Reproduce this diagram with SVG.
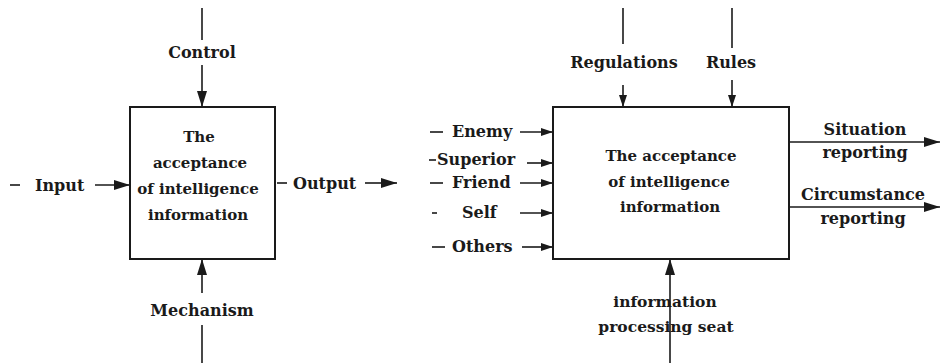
<svg xmlns="http://www.w3.org/2000/svg" width="940" height="363" viewBox="0 0 940 363">
<style>
  text { font-family: 'DejaVu Serif', serif; font-weight: 700; font-size: 16px; fill: #1a1a1a; }
  .c { text-anchor: middle; }
  .bt { font-size: 15px; }
  .box { fill: #fff; stroke: #1a1a1a; stroke-width: 2; }
  .ln { stroke: #1a1a1a; stroke-width: 1.6; fill: none; }
</style>
<defs>
  <marker id="ah" markerUnits="userSpaceOnUse" markerWidth="18" markerHeight="12" refX="16" refY="6" orient="auto">
    <path d="M0,1 L16,6 L0,11 Z" fill="#1a1a1a"/>
  </marker>
  <marker id="ahs" markerUnits="userSpaceOnUse" markerWidth="14" markerHeight="10" refX="12" refY="5" orient="auto">
    <path d="M0,1 L12,5 L0,9 Z" fill="#1a1a1a"/>
  </marker>
</defs>
<rect width="940" height="363" fill="#fff"/>

<g id="connectors">
  <line class="ln" x1="202" y1="8" x2="202" y2="40"/>
  <line class="ln" x1="202" y1="65" x2="202" y2="107" marker-end="url(#ah)"/>
  <line class="ln" x1="202" y1="293" x2="202" y2="259" marker-end="url(#ah)"/>
  <line class="ln" x1="202" y1="325" x2="202" y2="363"/>
  <line class="ln" x1="10" y1="185" x2="20" y2="185"/>
  <line class="ln" x1="95" y1="185" x2="130" y2="185" marker-end="url(#ah)"/>
  <line class="ln" x1="277" y1="183" x2="287" y2="183"/>
  <line class="ln" x1="365" y1="183" x2="397" y2="183" marker-end="url(#ah)"/>
  <line class="ln" x1="623" y1="8" x2="623" y2="44"/>
  <line class="ln" x1="623" y1="85" x2="623" y2="107" marker-end="url(#ahs)"/>
  <line class="ln" x1="732" y1="8" x2="732" y2="48"/>
  <line class="ln" x1="732" y1="80" x2="732" y2="107" marker-end="url(#ahs)"/>
  <line class="ln" x1="430" y1="132" x2="443" y2="132"/>
  <line class="ln" x1="520" y1="132" x2="553" y2="132" marker-end="url(#ahs)"/>
  <line class="ln" x1="429" y1="160" x2="436" y2="160"/>
  <line class="ln" x1="527" y1="163" x2="553" y2="163" marker-end="url(#ahs)"/>
  <line class="ln" x1="430" y1="183" x2="443" y2="183"/>
  <line class="ln" x1="520" y1="183" x2="553" y2="183" marker-end="url(#ahs)"/>
  <line class="ln" x1="432" y1="213" x2="437" y2="213"/>
  <line class="ln" x1="520" y1="213" x2="553" y2="213" marker-end="url(#ahs)"/>
  <line class="ln" x1="432" y1="247" x2="445" y2="247"/>
  <line class="ln" x1="522" y1="247" x2="553" y2="247" marker-end="url(#ahs)"/>
  <line class="ln" x1="670" y1="363" x2="670" y2="259" marker-end="url(#ah)"/>
  <line class="ln" x1="789" y1="142" x2="940" y2="142" marker-end="url(#ah)"/>
  <line class="ln" x1="789" y1="207" x2="940" y2="207" marker-end="url(#ah)"/>
</g>

<g id="node-left">
  <rect class="box" x="130" y="107" width="145" height="152"/>
  <text class="c bt" x="199" y="142">The</text>
  <text class="c bt" x="200" y="168">acceptance</text>
  <text class="c bt" x="198" y="194">of intelligence</text>
  <text class="c bt" x="198" y="220">information</text>
</g>

<g id="node-right">
  <rect class="box" x="553" y="107" width="236" height="152"/>
  <text class="c bt" x="671" y="161">The acceptance</text>
  <text class="c bt" x="669" y="187">of intelligence</text>
  <text class="c bt" x="670" y="212">information</text>
</g>

<g id="labels">
  <text class="c" x="202" y="58">Control</text>
  <text class="c" x="202" y="316">Mechanism</text>
  <text x="35" y="191">Input</text>
  <text x="293" y="189">Output</text>
  <text class="c" x="624" y="68">Regulations</text>
  <text class="c" x="731" y="68">Rules</text>
  <text x="452" y="137">Enemy</text>
  <text x="437" y="165">Superior</text>
  <text x="452" y="188">Friend</text>
  <text x="462" y="218">Self</text>
  <text x="452" y="252">Others</text>
  <text class="c" x="665" y="307" style="font-size:15.5px">information</text>
  <text class="c" x="666" y="332" style="font-size:15.5px">processing seat</text>
  <text class="c" x="865" y="135">Situation</text>
  <text class="c" x="865" y="158">reporting</text>
  <text class="c" x="863" y="200">Circumstance</text>
  <text class="c" x="863" y="224">reporting</text>
</g>
</svg>
